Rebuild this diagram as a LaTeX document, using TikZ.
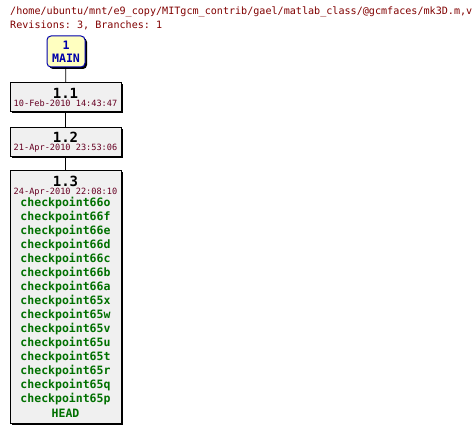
\documentclass[tikz,border=0pt]{standalone}
\usepackage{xcolor}
\usepackage{fontspec}
\setmonofont{DejaVu Sans Mono}
\usepackage{tikz}
\usetikzlibrary{shadows, positioning}
\definecolor{cvsred}{RGB}{128,0,0}
\definecolor{cvsdate}{RGB}{102,0,34}
\definecolor{cvsgreen}{RGB}{0,112,0}
\definecolor{cvsblue}{RGB}{0,0,170}
\definecolor{cvsyellow}{RGB}{255,255,192}
\definecolor{cvsgray}{RGB}{240,240,240}

\begin{document}
\begin{tikzpicture}[x=1pt, y=-1pt,
  title/.style={anchor=west, inner sep=0, text=cvsred, font=\ttfamily\fontsize{10.1}{11}\selectfont},
  branch/.style={rectangle, rounded corners=4pt, draw=cvsblue, line width=1pt, fill=cvsyellow, minimum width=38pt, minimum height=31pt, inner sep=0, drop shadow={shadow xshift=2pt, shadow yshift=-2pt, opacity=1, fill=black}},
  rev/.style={rectangle, draw=black, line width=1pt, fill=cvsgray, minimum width=111pt, inner sep=0, drop shadow={shadow xshift=2pt, shadow yshift=-2pt, opacity=1, fill=black}},
  brtxt/.style={inner sep=0, text=cvsblue, font=\ttfamily\bfseries\fontsize{11.6}{12}\selectfont},
  num/.style={inner sep=0, font=\ttfamily\bfseries\fontsize{14}{14}\selectfont},
  date/.style={inner sep=0, text=cvsdate, font=\ttfamily\fontsize{8.6}{9}\selectfont},
  tag/.style={inner sep=0, text=cvsgreen, font=\ttfamily\bfseries\fontsize{11.5}{12}\selectfont},
  link/.style={draw=black, line width=0.8pt}
]
\useasboundingbox (0,0) rectangle (476,433);
% Header
\node[title] (path) at (10,12) {/home/ubuntu/mnt/e9\_copy/MITgcm\_contrib/gael/matlab\_class/@gcmfaces/mk3D.m,v};
\node[title] (info) at (10,25) {Revisions: 3, Branches: 1};
% Branch
\node[branch] (main) at (66,51.5) {};
\node[brtxt] (mainnum) at (66,45) {1};
\node[brtxt] (mainname) at (66,58.5) {MAIN};
% Revisions
\node[rev, minimum height=29pt] (r11) at (65.5,97) {};
\node[num] (r11num) at (65.5,93) {1.1};
\node[date] (r11date) at (65.5,103.5) {10-Feb-2010 14:43:47};
\node[rev, minimum height=29pt] (r12) at (65.5,141.5) {};
\node[num] (r12num) at (65.5,137) {1.2};
\node[date] (r12date) at (65.5,148) {21-Apr-2010 23:53:06};
\node[rev, minimum height=253pt] (r13) at (65.5,296.5) {};
\node[num] (r13num) at (65.5,181) {1.3};
\node[date] (r13date) at (65.5,192) {24-Apr-2010 22:08:10};
\foreach \t [count=\i from 0] in {checkpoint66o, checkpoint66f, checkpoint66e, checkpoint66d, checkpoint66c, checkpoint66b, checkpoint66a, checkpoint65x, checkpoint65w, checkpoint65v, checkpoint65u, checkpoint65t, checkpoint65r, checkpoint65q, checkpoint65p, HEAD}
  \node[tag] (tag\i) at (65.5,203+14*\i) {\t};
% Links
\draw[link] (main) -- (r11);
\draw[link] (r11) -- (r12);
\draw[link] (r12) -- (r13);
\end{tikzpicture}
\end{document}
